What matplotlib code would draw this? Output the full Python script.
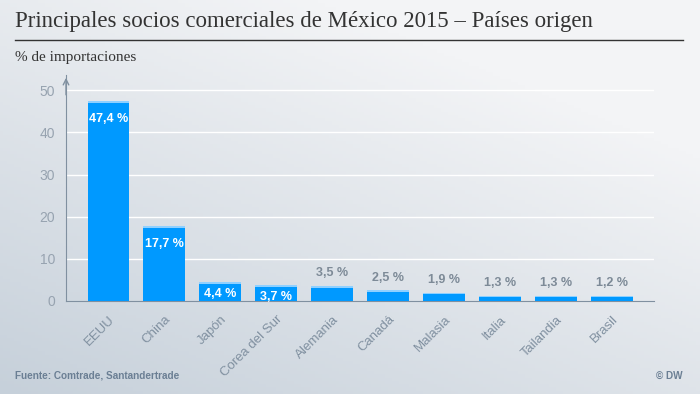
import numpy as np
import matplotlib
matplotlib.use("Agg")
import matplotlib.pyplot as plt

paises = ["EEUU", "China", "Japón", "Corea del Sur", "Alemania", "Canadá",
          "Malasia", "Italia", "Tailandia", "Brasil"]
importaciones = [47.4, 17.7, 4.4, 3.7, 3.5, 2.5, 1.9, 1.3, 1.3, 1.2]
yticks = [0, 10, 20, 30, 40, 50]

fig = plt.figure(figsize=(7, 3.94), dpi=100)

# fondo degradado
bg = fig.add_axes([0, 0, 1, 1], zorder=-10)
xx, yy = np.meshgrid(np.linspace(0, 1, 200), np.linspace(0, 1, 120))
t = np.clip(0.55 * xx + 0.75 * (1 - yy), 0, 1)
c0 = np.array([0xc6, 0xd0, 0xda]) / 255
c1 = np.array([0xf3, 0xf4, 0xf6]) / 255
img = c0[None, None, :] * (1 - t[..., None]) + c1[None, None, :] * t[..., None]
bg.imshow(img, extent=[0, 1, 0, 1], aspect="auto", origin="upper")
bg.axis("off")

serif = ["Liberation Serif", "DejaVu Serif"]
sans = ["Liberation Sans", "DejaVu Sans"]

fig.text(15 / 700, 1 - 22 / 394, "Principales socios comerciales de México 2015 – Países origen",
         family=serif, fontsize=16.5, color="#333333", va="center")
fig.add_artist(plt.Line2D([15 / 700, 683 / 700], [1 - 40 / 394, 1 - 40 / 394],
                          color="#333333", lw=1))
fig.text(15 / 700, 1 - 57 / 394, "% de importaciones", family=serif, fontsize=11,
         color="#333333", va="center")

ax = fig.add_axes([66 / 700, 1 - 301 / 394, 588 / 700, 226 / 394])
ax.set_facecolor("none")
x = np.arange(len(paises))
ax.bar(x, importaciones, width=0.75, color="#0099ff", edgecolor="none", zorder=3)
ax.bar(x, [0.35] * len(x), bottom=np.array(importaciones) - 0.35, width=0.75,
       color="#8fd0ff", edgecolor="none", zorder=4)

for xi, v in zip(x, importaciones):
    txt = f"{v:.1f}".replace(".", ",") + " %"
    if v >= 3.6:
        off = 2.7 if v > 10 else 1.4
        ax.text(xi, v - off, txt, ha="center", va="top", color="white",
                fontsize=9, fontweight="bold", family=sans, zorder=5)
    else:
        ax.text(xi, v + 1.6, txt, ha="center", va="bottom", color="#7d8a97",
                fontsize=9, fontweight="bold", family=sans, zorder=5)

ax.set_xlim(-0.76, 9.75)
ax.set_ylim(0, 53.6)
ax.set_yticks(yticks)
ax.set_yticklabels([str(v) for v in yticks], family=sans, fontsize=10, color="#97a3b0")
for yv in yticks[1:]:
    ax.axhline(yv, color="white", lw=1, zorder=1)
ax.set_xticks(x)
ax.set_xticklabels(paises, rotation=45, ha="right", rotation_mode="anchor",
                   family=sans, fontsize=9.5, color="#8090a0")
ax.tick_params(length=0, pad=8)
ax.tick_params(axis="x", pad=9)
for s in ["top", "right"]:
    ax.spines[s].set_visible(False)
ax.spines["left"].set_color("#8090a0")
ax.spines["bottom"].set_color("#8090a0")
ax.annotate("", xy=(0, 1.0), xycoords="axes fraction", xytext=(0, 0.9),
            arrowprops=dict(arrowstyle="->", color="#8090a0", lw=1))

fig.text(15 / 700, 1 - 376 / 394, "Fuente: Comtrade, Santandertrade", family=sans,
         fontsize=7.2, fontweight="bold", color="#6b7f94", va="center")
fig.text(683 / 700, 1 - 376 / 394, "© DW", family=sans, fontsize=7.2,
         fontweight="bold", color="#6b7f94", va="center", ha="right")

fig.savefig("out.png", dpi=100)
